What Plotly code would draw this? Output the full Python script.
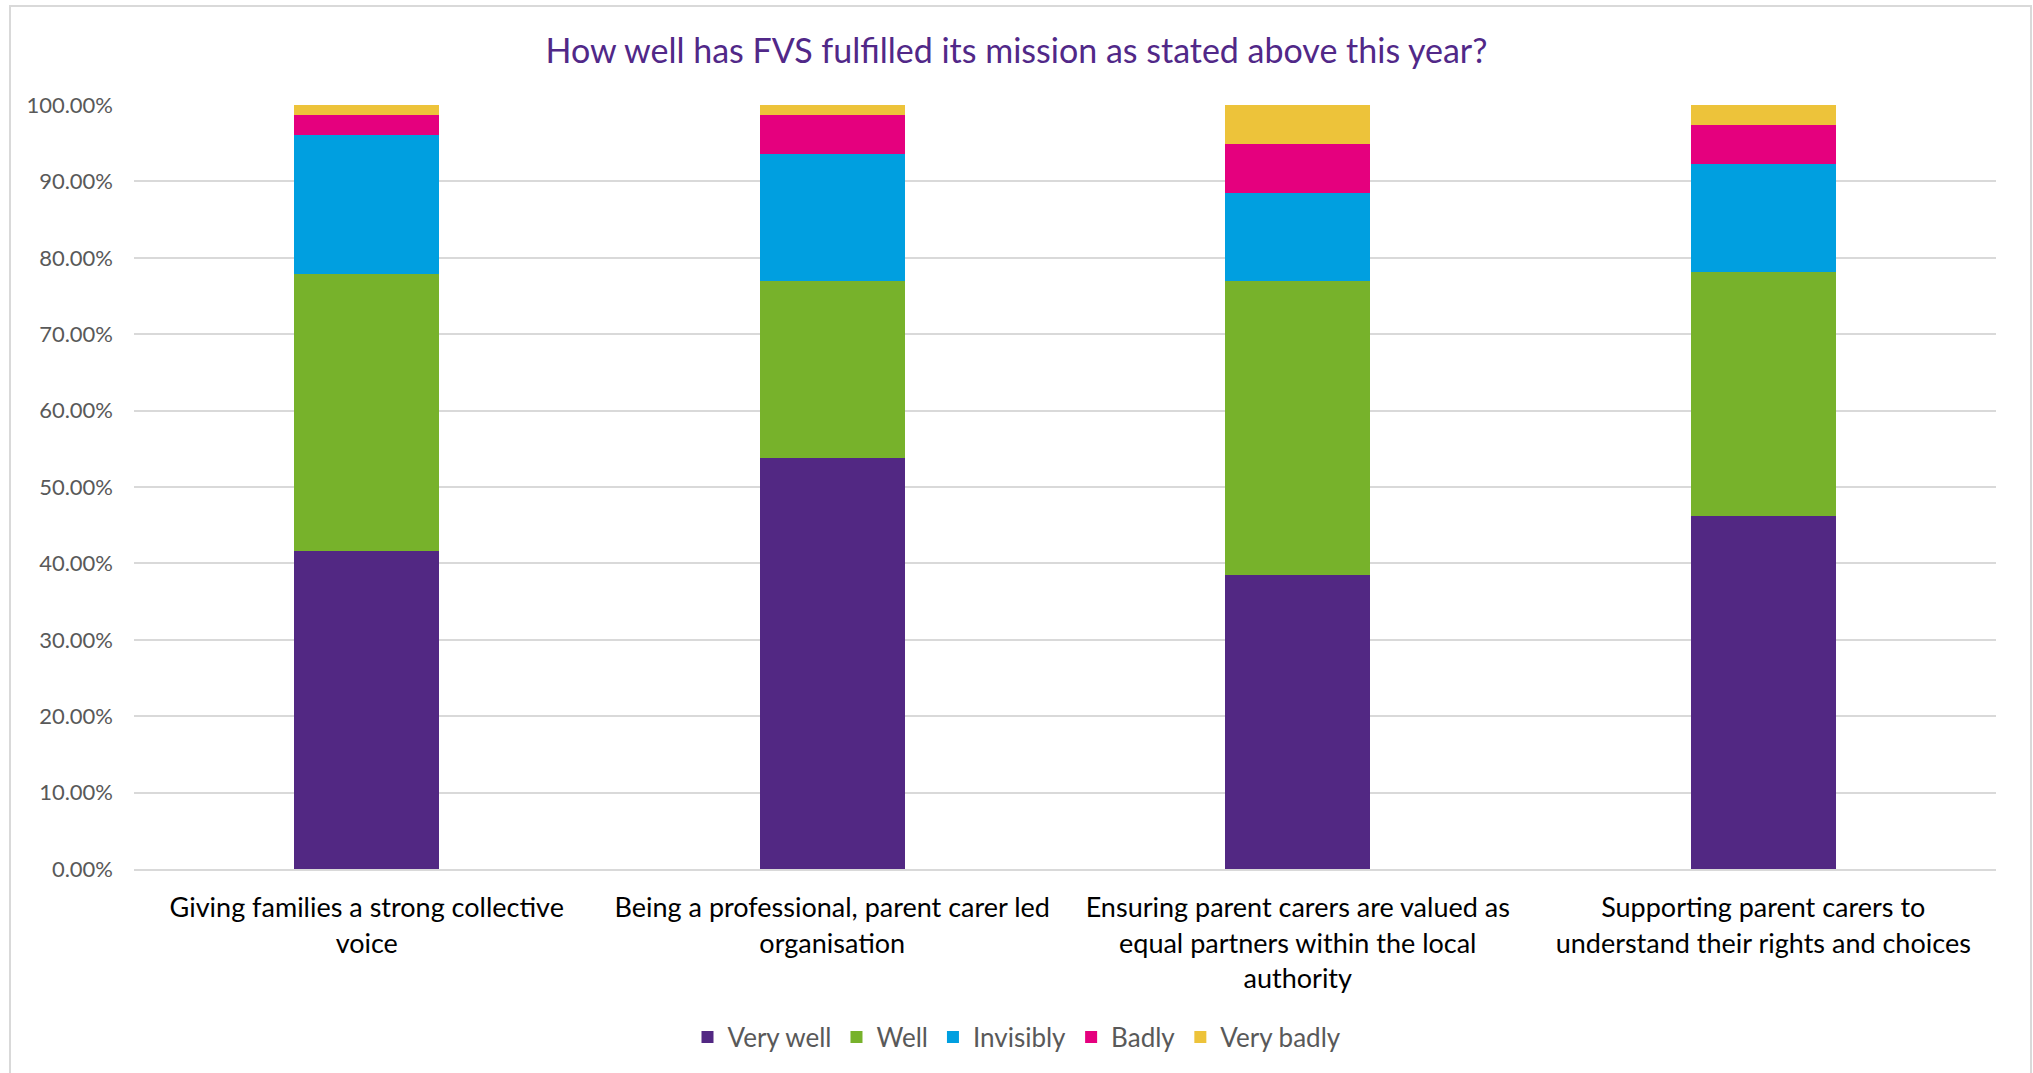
import plotly.graph_objects as go

categories = [
    "Giving families a strong collective<br>voice",
    "Being a professional, parent carer led<br>organisation",
    "Ensuring parent carers are valued as<br>equal partners within the local<br>authority",
    "Supporting parent carers to<br>understand their rights and choices",
]
series_names = ["Very well", "Well", "Invisibly", "Badly", "Very badly"]
very_well = [0.4156, 0.5385, 0.3846, 0.4615]
well = [0.3636, 0.2308, 0.3846, 0.3205]
invisibly = [0.1818, 0.1667, 0.1154, 0.1410]
badly = [0.0260, 0.0513, 0.0641, 0.0513]
very_badly = [0.0130, 0.0128, 0.0513, 0.0256]
colors = ["#522883", "#77B22B", "#009FE0", "#E5007E", "#EDC33A"]
y_ticks = [0, 0.1, 0.2, 0.3, 0.4, 0.5, 0.6, 0.7, 0.8, 0.9, 1.0]

FONT = "Lato, 'Open Sans', sans-serif"

fig = go.Figure()
for name, vals, col in zip(series_names, [very_well, well, invisibly, badly, very_badly], colors):
    fig.add_trace(go.Bar(
        x=categories, y=vals, name=name,
        marker=dict(color=col, line=dict(width=0)),
        hovertemplate="%{y:.2%}<extra>" + name + "</extra>",
    ))

W, H = 2033, 1073
L, R, T, B = 134, 37, 105, 204
pw = W - L - R
ph = H - T - B

fig.update_layout(
    barmode="stack",
    bargap=0.688,
    width=W, height=H,
    margin=dict(l=L, r=R, t=T, b=B, autoexpand=False),
    paper_bgcolor="white",
    plot_bgcolor="white",
    font=dict(family=FONT, color="#595959"),
    title=dict(
        text="How well has FVS fulfilled its mission as stated above this year?",
        x=0.5, xref="container", xanchor="center",
        y=1 - 51 / H, yref="container", yanchor="middle",
        font=dict(family=FONT, size=34, color="#512888"),
    ),
    legend=dict(
        orientation="h",
        x=(1017 - L) / pw, xanchor="center",
        y=(869 - 1037) / ph, yanchor="middle",
        font=dict(family=FONT, size=26, color="#595959"),
        traceorder="normal",
        itemwidth=30,
    ),
    showlegend=True,
)

fig.update_yaxes(
    range=[0, 1],
    tickvals=y_ticks,
    tickformat=".2%",
    showgrid=True, gridcolor="#D9D9D9", gridwidth=1.5,
    zeroline=False,
    showline=False,
    tickfont=dict(family=FONT, size=22, color="#595959"),
    ticklabelstandoff=20,
    fixedrange=True,
)
fig.update_xaxes(
    showline=True, linecolor="#D9D9D9", linewidth=2,
    tickfont=dict(family=FONT, size=27, color="#000000"),
    ticklabelstandoff=14,
    fixedrange=True,
)

# outer chart border
fig.add_shape(
    type="rect", xref="paper", yref="paper",
    x0=(10 - L) / pw, x1=(2031 - L) / pw,
    y0=(869 - 1080) / ph, y1=(869 - 6) / ph,
    line=dict(color="#D9D9D9", width=2), fillcolor="rgba(0,0,0,0)", layer="below",
)

fig.write_html("out.html")
